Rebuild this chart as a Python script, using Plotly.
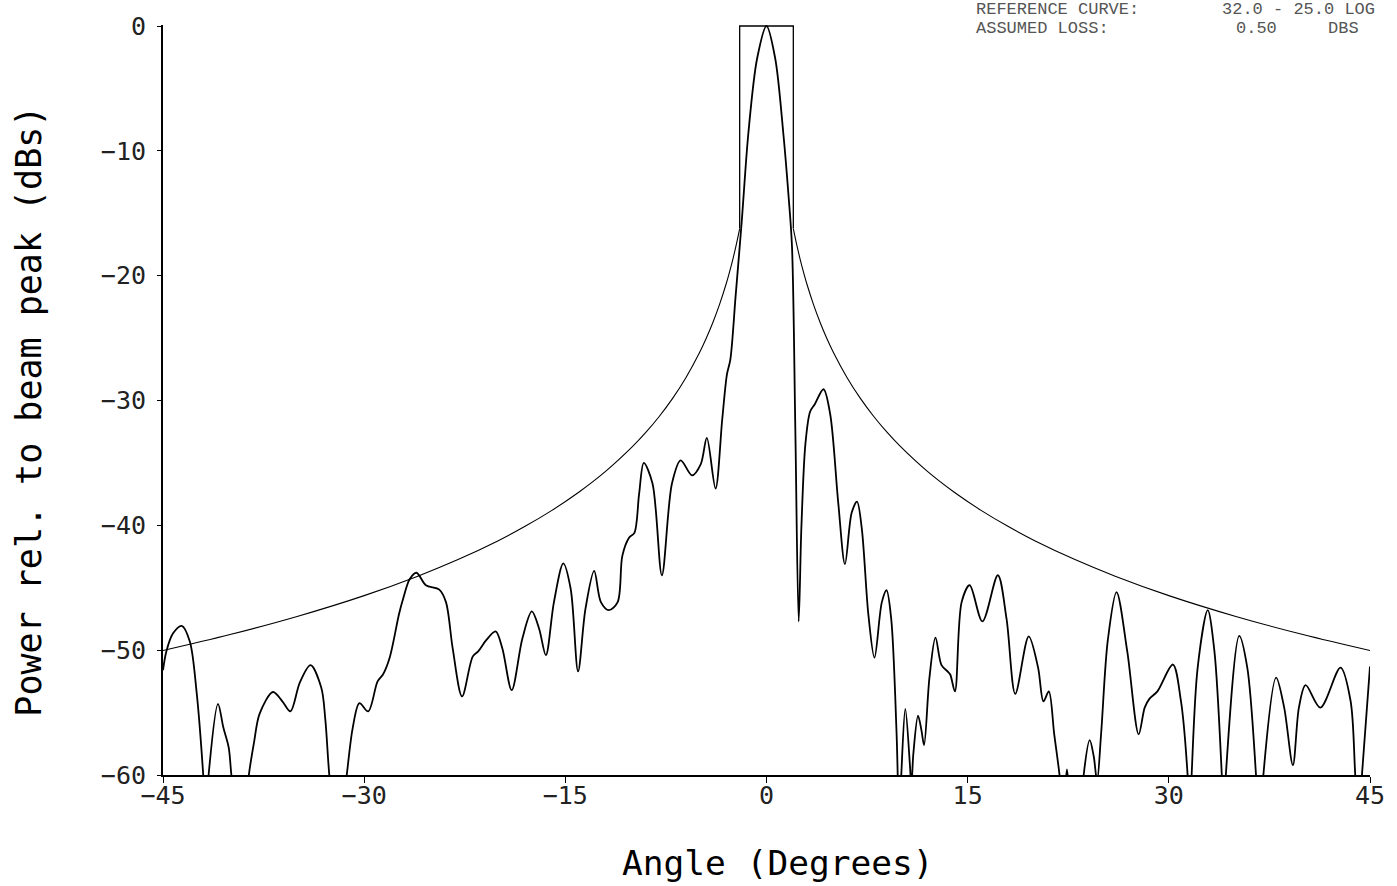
import plotly.graph_objects as go

# ---- data ----
pattern_angle = [
    -45.0, -44.75, -44.25, -43.6, -43.0, -42.5, -42.0, -41.8, -41.6, -40.9, -40.5, -40.1, -39.9,
    -39.2, -38.6, -38.2, -37.8, -36.8, -36.1, -35.5, -34.8, -34.0, -33.2, -32.9, -32.6, -32.0,
    -31.3, -30.85, -30.35, -29.7, -29.0, -28.6, -28.1, -27.4, -27.1, -26.6, -26.1, -25.4, -24.4,
    -23.9, -23.4, -22.7, -21.9, -21.5, -20.9, -20.2, -19.7, -19.0, -18.2, -17.5, -16.95, -16.45,
    -15.85, -15.15, -14.6, -14.05, -13.5, -12.85, -12.35, -11.75, -11.1, -10.75, -10.25, -9.85,
    -9.5, -9.15, -8.5, -7.8, -7.05, -6.4, -5.55, -4.9, -4.45, -3.8, -3.3, -2.95, -2.7, -2.3,
    -1.85, -1.35, -0.7, 0.0, 0.65, 1.25, 1.65, 1.9, 2.15, 2.4, 2.6, 2.9, 3.25, 3.6, 4.25, 4.75,
    5.35, 5.85, 6.35, 6.75, 7.1, 7.6, 8.05, 8.6, 8.95, 9.3, 9.7, 9.9, 10.05, 10.35, 10.7, 10.8,
    10.95, 11.3, 11.55, 11.75, 12.15, 12.6, 13.05, 13.5, 13.7, 14.05, 14.55, 15.15, 16.1, 17.25,
    17.9, 18.55, 19.55, 20.25, 20.65, 21.05, 21.45, 21.85, 22.1, 22.4, 22.6, 23.2, 23.65, 24.1,
    24.4, 24.65, 24.95, 25.45, 26.1, 26.9, 27.75, 28.2, 28.55, 29.15, 30.3, 30.9, 31.4, 31.55,
    31.7, 32.15, 32.9, 33.4, 33.95, 34.1, 34.25, 35.25, 35.85, 36.5, 36.8, 37.05, 38.0, 38.6,
    39.25, 39.7, 40.2, 41.3, 42.8, 43.55, 43.9, 44.15, 44.4, 45.0,
]
pattern_db = [
    -51.6, -50.1, -48.65, -48.05, -49.3, -53.3, -60.0, -64.0, -60.0, -54.3, -56.2, -57.8, -60.0,
    -66.0, -60.0, -57.3, -55.1, -53.35, -54.1, -54.9, -52.6, -51.2, -53.0, -55.5, -60.0, -66.0,
    -60.0, -56.2, -54.25, -54.9, -52.5, -51.95, -50.6, -47.1, -45.9, -44.3, -43.8, -44.8, -45.15,
    -46.15, -49.85, -53.7, -50.5, -50.1, -49.2, -48.5, -49.85, -53.2, -49.05, -46.9, -48.3, -50.4,
    -46.15, -43.05, -45.1, -51.7, -46.7, -43.65, -46.15, -46.8, -46.15, -42.45, -41.0, -40.6,
    -37.5, -35.0, -36.65, -44.0, -36.65, -34.8, -36.0, -35.1, -33.0, -37.05, -31.5, -27.9, -26.75,
    -21.6, -15.7, -8.55, -2.6, 0.0, -2.6, -8.55, -13.7, -17.65, -32.3, -47.7, -40.2, -33.5, -30.9,
    -30.3, -29.1, -31.1, -38.2, -43.1, -39.0, -38.1, -40.2, -47.2, -50.6, -46.15, -45.2, -47.5,
    -56.7, -64.0, -60.0, -54.7, -59.3, -61.0, -58.3, -55.25, -56.4, -57.6, -52.2, -49.0, -51.2,
    -51.7, -51.95, -53.3, -46.15, -44.8, -47.7, -44.0, -47.5, -53.5, -48.9, -51.4, -54.1, -53.3,
    -56.7, -60.0, -63.0, -59.55, -62.0, -68.0, -60.0, -57.2, -58.5, -60.5, -56.7, -49.2, -45.35,
    -50.1, -56.75, -54.6, -53.9, -53.3, -51.15, -54.05, -60.0, -64.0, -60.0, -51.4, -46.8, -50.1,
    -60.0, -64.0, -60.0, -48.85, -51.4, -60.0, -66.0, -60.0, -52.2, -54.6, -59.2, -54.6, -52.8,
    -54.6, -51.4, -54.05, -60.0, -64.0, -60.0, -51.3,
]

# reference envelope (32 - 25 log(theta) relative to peak), read at these angles
env_angle = [2, 2.25, 2.5, 2.75, 3, 3.5, 4, 4.5, 5, 6, 7, 8, 9, 10, 12, 14, 16, 18, 20,
             23, 26, 30, 35, 40, 45]
env_db = [-16.23, -17.50, -18.65, -19.68, -20.63, -22.30, -23.75, -25.03, -26.17, -28.15,
          -29.83, -31.28, -32.56, -33.70, -35.68, -37.35, -38.80, -40.08, -41.23, -42.74,
          -44.07, -45.63, -47.30, -48.75, -50.03]

box_angle = [-2, -2, 2, 2]
box_db = [-16.23, 0, 0, -16.23]

x_ticks = [-45, -30, -15, 0, 15, 30, 45]
x_ticktext = ["\u221245", "\u221230", "\u221215", "0", "15", "30", "45"]
y_ticks = [0, -10, -20, -30, -40, -50, -60]
y_ticktext = ["0", "\u221210", "\u221220", "\u221230", "\u221240", "\u221250", "\u221260"]

info_labels = ["REFERENCE CURVE:", "ASSUMED LOSS:"]
info_values = ["32.0 - 25.0 LOG", "0.50"]
info_units = ["", "DBS"]

# ---- figure ----
fig = go.Figure()
left_x = [-a for a in reversed(env_angle)]
left_y = list(reversed(env_db))
fig.add_trace(go.Scatter(x=left_x, y=left_y, mode="lines",
                         line=dict(color="black", width=1.1, shape="spline")))
fig.add_trace(go.Scatter(x=box_angle, y=box_db, mode="lines",
                         line=dict(color="black", width=1.3)))
fig.add_trace(go.Scatter(x=env_angle, y=env_db, mode="lines",
                         line=dict(color="black", width=1.1, shape="spline")))
fig.add_trace(go.Scatter(x=pattern_angle, y=pattern_db, mode="lines",
                         line=dict(color="black", width=1.8, shape="spline", smoothing=0.9)))

mono = "DejaVu Sans Mono"
W, H = 1397, 886
ml, mr, mt, mb = 163, 24, 16, 111
pw, ph = W - ml - mr, H - mt - mb


def px2paper(px, py):
    return (px - ml) / pw, 1 - (py - mt) / ph


annotations = []
# info text top right
for (lab, val, unit, py) in zip(info_labels, info_values, info_units, [0, 20]):
    for txt, px in [(lab, 976), (val, 1223 if unit == "" else 1237), (unit, 1329)]:
        if not txt:
            continue
        xp, yp = px2paper(px, py)
        annotations.append(dict(text=txt, x=xp, y=yp, xref="paper", yref="paper",
                                xanchor="left", yanchor="middle", showarrow=False,
                                font=dict(family="Liberation Mono", size=17, color="#555")))
# axis titles
xp, yp = px2paper(780, 864)
annotations.append(dict(text="Angle (Degrees)", x=xp, y=yp, xref="paper", yref="paper",
                        xanchor="center", yanchor="middle", showarrow=False,
                        font=dict(family=mono, size=34.5, color="black")))
xp, yp = px2paper(29, 407)
annotations.append(dict(text="Power rel. to beam peak (dBs)", x=xp, y=yp, xref="paper",
                        yref="paper", xanchor="center", yanchor="middle", showarrow=False,
                        textangle=-90, font=dict(family=mono, size=35, color="black")))

fig.update_layout(
    width=W, height=H,
    margin=dict(l=ml, r=mr, t=mt, b=mb),
    plot_bgcolor="white", paper_bgcolor="white",
    showlegend=False,
    annotations=annotations,
    xaxis=dict(range=[-45, 45], tickvals=x_ticks, ticktext=x_ticktext,
               showgrid=False, zeroline=False, showline=True, linecolor="black",
               linewidth=1.5, ticks="outside", ticklen=6, tickcolor="black", tickwidth=1.3,
               ticklabelstandoff=-9,
               tickfont=dict(family=mono, size=25, color="#222")),
    yaxis=dict(range=[-60, 0.08], tickvals=y_ticks, ticktext=y_ticktext,
               showgrid=False, zeroline=False, showline=True, linecolor="black",
               linewidth=2, ticks="outside", ticklen=4, tickcolor="black", tickwidth=1.3,
               ticklabelstandoff=6,
               tickfont=dict(family=mono, size=25, color="#222")),
)

fig.write_html("out.html")
